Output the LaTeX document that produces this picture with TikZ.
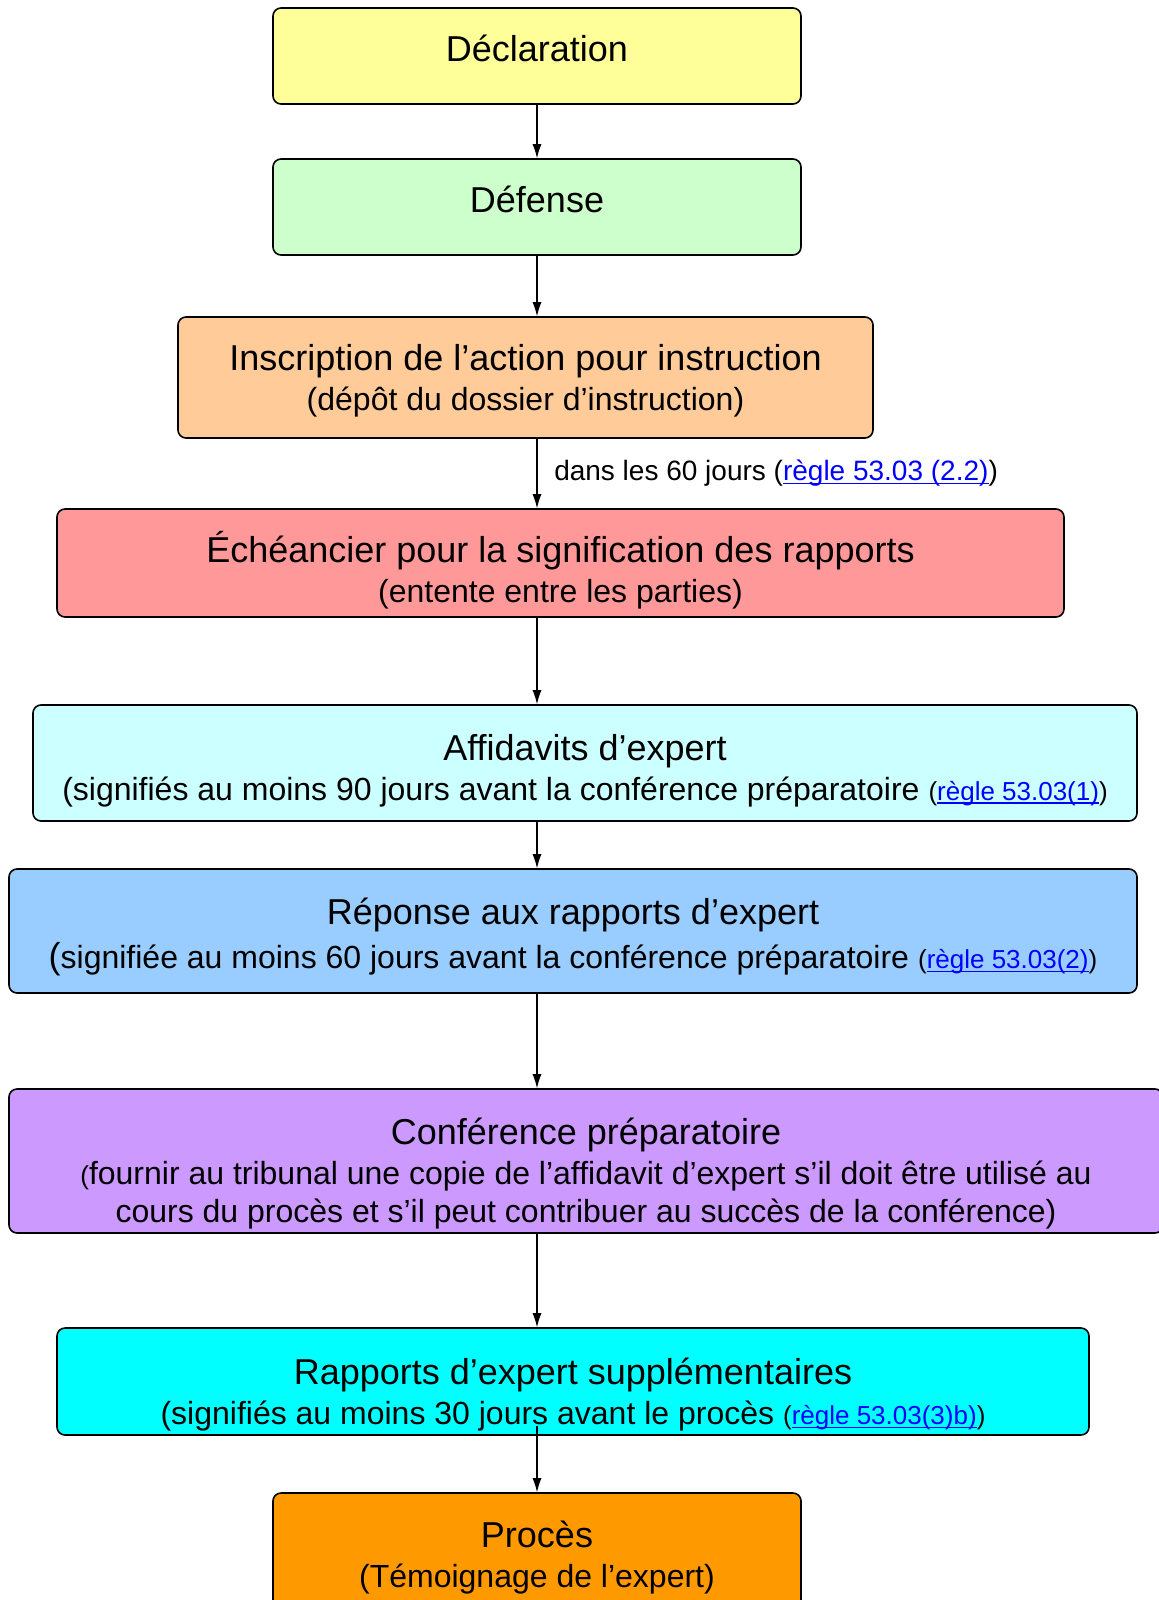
\documentclass[tikz,border=0pt]{standalone}
\usepackage{fontspec}
\setmainfont{Liberation Sans}
\usepackage{tikz}
\usetikzlibrary{arrows.meta}
\usetikzlibrary{positioning}
\definecolor{declfill}{HTML}{FFFF99}
\definecolor{deffill}{HTML}{CCFFCC}
\definecolor{inscfill}{HTML}{FFCC99}
\definecolor{echfill}{HTML}{FF9999}
\definecolor{afffill}{HTML}{CCFFFF}
\definecolor{repfill}{HTML}{99CCFF}
\definecolor{conffill}{HTML}{CC99FF}
\definecolor{rapfill}{HTML}{00FFFF}
\definecolor{procfill}{HTML}{FF9900}
\definecolor{linkblue}{HTML}{0000FF}
\tikzset{box/.style = {draw, rounded corners=4pt, line width=0.8pt, inner sep=0}}
\tikzset{txt/.style = {align=center, inner sep=0, font=\fontsize{16}{20}\selectfont}}
\tikzset{arr/.style = {-{Latex[length=7pt,width=4.5pt]}, line width=0.6pt}}
\newsavebox{\lienbox}
\newcommand{\titre}[1]{{\fontsize{18}{20}\selectfont #1}}
\newcommand{\lien}[1]{\sbox{\lienbox}{\color{linkblue}#1}{\color{linkblue}\rlap{\rule[-1.6pt]{\wd\lienbox}{0.55pt}}}\usebox{\lienbox}}
\newcommand{\regle}[1]{{\fontsize{13}{20}\selectfont (\lien{#1})}}

\begin{document}
\begin{tikzpicture}
        \useasboundingbox (0,0) rectangle (579pt,-800pt);
        \coordinate (axis) at (268.5pt,0);
        \node [box, fill=declfill, minimum width=264pt, minimum height=48pt,
               label={[txt, yshift=3.6pt]center:{\titre{Déclaration}}}] (decl) at (268.5pt,-28pt) {};
        \node [box, fill=deffill, minimum width=264pt, minimum height=48pt,
               label={[txt, yshift=3.6pt]center:{\titre{Défense}}}] (def) at (268.5pt,-103.5pt) {};
        \node [box, fill=inscfill, minimum width=347.5pt, minimum height=60.5pt,
               label={[txt, yshift=-1.8pt]center:{\titre{Inscription de l’action pour instruction}\\(dépôt du dossier d’instruction)}}] (insc) at (262.75pt,-188.75pt) {};
        \node [box, fill=echfill, minimum width=503.5pt, minimum height=54pt,
               label={[txt, yshift=-3.8pt]center:{\titre{Échéancier pour la signification des rapports}\\(entente entre les parties)}}] (ech) at (280.25pt,-281.5pt) {};
        \node [box, fill=afffill, minimum width=552pt, minimum height=58pt,
               label={[txt, yshift=-3.8pt]center:{\titre{Affidavits d’expert}\\(signifiés au moins 90 jours avant la conférence préparatoire \regle{règle 53.03(1)}}}] (aff) at (292.5pt,-381.5pt) {};
        \node [box, fill=repfill, minimum width=564pt, minimum height=62pt,
               label={[txt, yshift=-3pt]center:{\titre{Réponse aux rapports d’expert}\\[2pt]\titre{(}signifiée au moins 60 jours avant la conférence préparatoire \regle{règle 53.03(2)}}}] (rep) at (286.5pt,-465.5pt) {};
        \node [box, fill=conffill, minimum width=577pt, minimum height=72pt,
               label={[txt, yshift=-6.3pt]center:{\titre{Conférence préparatoire}\\{\fontsize{13}{20}\selectfont(}fournir au tribunal une copie de l’affidavit d’expert s’il doit être utilisé au\\[-1pt]cours du procès et s’il peut contribuer au succès de la conférence)}}] (conf) at (293pt,-580.5pt) {};
        \node [box, fill=rapfill, minimum width=516pt, minimum height=53.5pt,
               label={[txt, yshift=-6.6pt]center:{\titre{Rapports d’expert supplémentaires}\\(signifiés au moins 30 jours avant le procès \regle{règle 53.03(3)b)}}}] (rap) at (286.5pt,-690.75pt) {};
        \node [box, fill=procfill, minimum width=264pt, minimum height=61.5pt,
               label={[txt, yshift=-1.3pt]center:{\titre{Procès}\\(Témoignage de l’expert)}}] (proc) at (268.5pt,-777.25pt) {};
        % fleches
        \draw [arr] (decl.south -| axis) -- (def.north -| axis);
        \draw [arr] (def.south -| axis) -- (insc.north -| axis);
        \draw [arr] (insc.south -| axis) -- (ech.north -| axis) node [pos=0.5, right=5pt, font=\fontsize{14}{16}\selectfont] (delai) {dans les 60 jours (\lien{règle 53.03 (2.2)})};
        \draw [arr] (ech.south -| axis) -- (aff.north -| axis);
        \draw [arr] (aff.south -| axis) -- (rep.north -| axis);
        \draw [arr] (rep.south -| axis) -- (conf.north -| axis);
        \draw [arr] (conf.south -| axis) -- (rap.north -| axis);
        \draw [arr] ([yshift=5pt]rap.south -| axis) -- (proc.north -| axis);
\end{tikzpicture}
\end{document}
